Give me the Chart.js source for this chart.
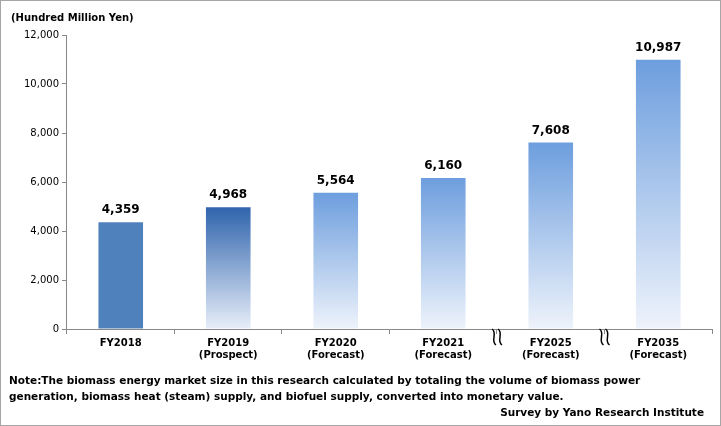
<!DOCTYPE html>
<html><head><meta charset="utf-8">
<script src="https://cdn.jsdelivr.net/npm/chart.js@4/dist/chart.umd.min.js"></script>
<style>
body{margin:0;background:#fff}
#wrap{position:relative;width:719px;height:424px;border:1px solid #a6a6a6}
</style></head>
<body><div id="wrap"><canvas id="graph" width="719" height="424"></canvas></div>
<script>
var years = ["FY2018","FY2019","FY2020","FY2021","FY2025","FY2035"];
var subs = ["","(Prospect)","(Forecast)","(Forecast)","(Forecast)","(Forecast)"];
var values = [4359,4968,5564,6160,7608,10987];
var yTicks = [0,2000,4000,6000,8000,10000,12000];
var font = "DejaVu Sans";

function barColor(ctx){
  var c = ctx.chart, a = c.chartArea;
  if(!a) return '#4f81bd';
  var i = ctx.dataIndex;
  if(i==0) return '#4f81bd';
  var top = c.scales.y.getPixelForValue(values[i]);
  var g = c.ctx.createLinearGradient(0, top, 0, a.bottom);
  if(i==1){ g.addColorStop(0,'#2f64ad'); g.addColorStop(1,'#e8eef9'); }
  else { g.addColorStop(0,'#6d9ede'); g.addColorStop(1,'#eef3fb'); }
  return g;
}

var extras = {
  id:'extras',
  afterDraw:function(c){
    var x = c.ctx, s = c.scales.x, y = c.scales.y;
    x.save();
    x.fillStyle='#000'; x.textAlign='center';
    x.font='bold 12px '+font;
    for(var i=0;i<values.length;i++){
      x.fillText(values[i].toLocaleString('en-US'), s.getPixelForValue(i), y.getPixelForValue(values[i])-9);
    }
    x.font='bold 10px '+font;
    x.textAlign='left';
    x.fillText('(Hundred Million Yen)', 10, 20);
    x.font='bold 10.5px '+font;
    x.fillText('Note:The biomass energy market size in this research calculated by totaling the volume of biomass power', 8, 383);
    x.fillText('generation, biomass heat (steam) supply, and biofuel supply, converted into monetary value.', 8, 399);
    x.textAlign='right';
    x.fillText('Survey by Yano Research Institute', 703, 415);
    // break marks
    x.strokeStyle='#000'; x.lineWidth=1.5;
    [3.5,4.5].forEach(function(p){
      var cx = s.getPixelForValue(p), cy = y.bottom+8;
      [-3,3].forEach(function(d){
        x.beginPath();
        x.moveTo(cx+d-2, cy-8);
        x.bezierCurveTo(cx+d+4, cy-4, cx+d-4, cy+4, cx+d+2, cy+8);
        x.stroke();
      });
    });
    x.restore();
  }
};

new Chart(document.getElementById('graph'), {
  type:'bar',
  data:{labels: years.map(function(v,i){return subs[i]?[v,subs[i]]:v;}),
    datasets:[{data:values, backgroundColor:barColor, barPercentage:0.83, categoryPercentage:0.5}]},
  options:{
    animation:false, responsive:false,
    layout:{padding:{top:34,right:8,bottom:61,left:20}},
    plugins:{legend:{display:false},tooltip:{enabled:false}},
    scales:{
      y:{min:0,max:12000,
        afterBuildTicks:function(a){a.ticks=yTicks.map(function(v){return {value:v};});},
        grid:{drawOnChartArea:false,drawTicks:true,tickLength:5,color:'#888'},
        border:{color:'#888'},
        ticks:{color:'#000',font:{family:font,size:10},callback:function(v){return v.toLocaleString('en-US');}}},
      x:{grid:{drawOnChartArea:false,offset:true,tickLength:5,color:'#888'},
        border:{color:'#888'},
        ticks:{color:'#000',font:{family:font,size:10,weight:'bold'}}}
    }
  },
  plugins:[extras]
});
</script></body></html>
